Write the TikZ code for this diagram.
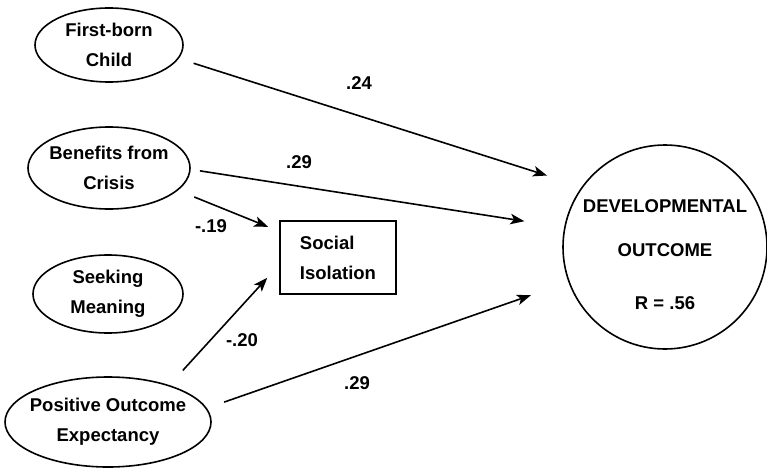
\documentclass[tikz,border=0pt]{standalone}
\usepackage{fontspec}
\setmainfont{Liberation Sans}
\usetikzlibrary{shapes.geometric,arrows.meta}

\begin{document}
\begin{tikzpicture}[x=1pt,y=-1pt,
    every node/.style={font=\fontsize{18.5}{30}\selectfont\bfseries},
    var/.style={draw,ellipse,line width=1.6pt,inner sep=0pt,align=center},
    arr/.style={-{Stealth[length=14pt,width=10.5pt,inset=3.5pt]},line width=1.6pt}]
    \useasboundingbox (0,0) rectangle (767,468);

    % predictors
    \node[var,minimum width=148pt,minimum height=74pt] (fb) at (109,45) {First-born\\Child};
    \node[var,minimum width=162pt,minimum height=82pt,inner xsep=-4pt] (bc) at (109,168) {Benefits from\\Crisis};
    \node[var,minimum width=150pt,minimum height=78pt] (sm) at (108,294) {Seeking\\Meaning};
    \node[var,minimum width=206pt,minimum height=90pt,inner xsep=-8pt] (poe) at (108,422) {Positive Outcome\\Expectancy};

    % mediator and outcome
    \node[draw,line width=1.6pt,minimum width=116pt,minimum height=73pt,inner sep=0pt,align=left] (si) at (338,257.5) {Social\\Isolation};
    \node[draw,circle,line width=1.6pt,minimum size=204pt,inner sep=-12pt,align=center] (dev) at (665,247)
        {\rule{0pt}{28pt}DEVELOPMENTAL\\[14pt]OUTCOME\\[23pt]R = .56};

    % paths
    \draw[arr,shorten <=15.5pt,shorten >=36.5pt] (fb.-11.8) -- (dev.144.7);
    \draw[arr,shorten <=9.3pt,shorten >=40.2pt] (bc.-1.8) -- (dev.169.3);
    \draw[arr,shorten <=17.5pt,shorten >=11.9pt] (bc.-18.3) -- (si.156.7);
    \draw[arr,shorten <=19.8pt,shorten >=17.7pt] (poe.31.1) -- (si.187.4);
    \draw[arr,shorten <=18.2pt,shorten >=39.75pt] (poe.8.2) -- (dev.200.7);

    % coefficients
    \node (w1) at (359,83) {.24};
    \node (w2) at (299,162) {.29};
    \node (w3) at (211,226) {-.19};
    \node (w4) at (242,340) {-.20};
    \node (w5) at (357,383) {.29};
\end{tikzpicture}
\end{document}
